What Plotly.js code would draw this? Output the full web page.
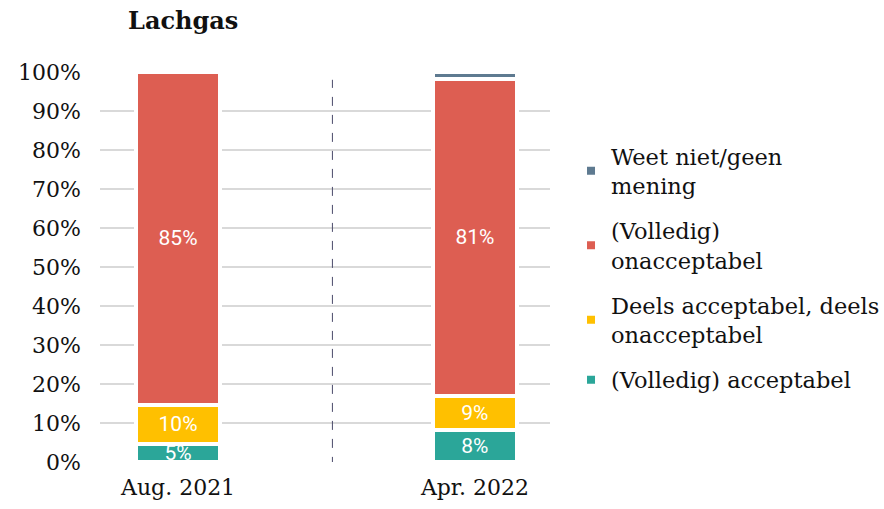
<!DOCTYPE html>
<html><head><meta charset="utf-8">
<script src="https://cdn.plot.ly/plotly-3.0.1.min.js"></script>
<style>html,body{margin:0;padding:0;background:#fff}#chart{width:884px;height:509px}</style>
</head><body><div id="chart"></div>
<script>
const categories = ['Aug. 2021', 'Apr. 2022'];
const volledigAcceptabel = [4.6, 8.3];
const deelsAcceptabel = [10.1, 8.7];
const onacceptabel = [85.3, 81.3];
const weetNiet = [0, 1.7];
const seriesNames = ['(Volledig) acceptabel', 'Deels acceptabel, deels<br>onacceptabel', '(Volledig)<br>onacceptabel', 'Weet niet/geen<br>mening'];
const seriesColors = ['#2ba699', '#ffc000', '#dd5e52', '#5e7a90'];
const yTicks = [0,10,20,30,40,50,60,70,80,90,100];

const serif = 'DejaVu Serif, serif';
const values = [volledigAcceptabel, deelsAcceptabel, onacceptabel, weetNiet];
const traces = values.map((v, i) => ({
  type: 'bar', x: categories, y: v, name: seriesNames[i], legendgroup: 'g' + i, legendrank: 100 * (4 - i),
  marker: {color: seriesColors[i], line: {color: '#ffffff', width: 4}},
  width: 0.285,
  text: i < 3 ? v.map(d => Math.round(d) + '%') : v.map(() => ''),
  textposition: i < 3 ? 'inside' : 'none',
  insidetextanchor: 'middle',
  constraintext: 'none',
  textfont: {family: 'Roboto, sans-serif', size: 21, color: '#ffffff'},
  hoverinfo: 'skip'
}));

const layout = {
  width: 884, height: 509,
  margin: {l: 100, r: 334, t: 72, b: 47, autoexpand: false},
  paper_bgcolor: '#ffffff', plot_bgcolor: '#ffffff',
  barmode: 'stack',
  title: {text: '<b>Lachgas</b>', x: 128/884, xanchor: 'left', xref: 'container', y: 1 - 21/509, yanchor: 'middle', yref: 'container',
          font: {family: serif, size: 24, color: '#111111'}},
  xaxis: {type: 'category', range: [-0.263, 1.253], showgrid: false, zeroline: false, showline: false,
          ticks: '', tickfont: {family: serif, size: 22, color: '#111111'}, ticklabelstandoff: 10},
  yaxis: {range: [0, 100], tickvals: yTicks, ticktext: yTicks.map(t => t + '%'), showgrid: true,
          gridcolor: '#d9d9d9', gridwidth: 2, zeroline: false, showline: false, ticks: '',
          tickfont: {family: serif, size: 22, color: '#111111'}, ticklabelstandoff: 18},
  legend: {traceorder: 'grouped', x: 1.0467, xanchor: 'left', y: (462 - 135) / 390, yanchor: 'top',
           font: {family: serif, size: 22.5, color: '#111111'}, tracegroupgap: 13, itemwidth: 30,
           bgcolor: 'rgba(0,0,0,0)'},
  showlegend: true,
  shapes: [{type: 'line', xref: 'x', yref: 'y', x0: 0.52, x1: 0.52, y0: -1, y1: 98,
            line: {color: '#4a4a6a', width: 1, dash: 'dash'}}]
};
Plotly.newPlot('chart', traces, layout, {displayModeBar: false, staticPlot: true});
</script></body></html>
